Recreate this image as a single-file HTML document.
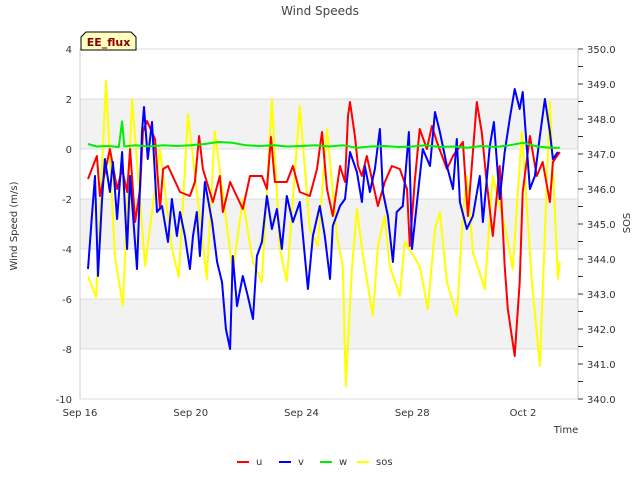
<!DOCTYPE html>
<html><head><meta charset="utf-8">
<style>
body{margin:0;background:#fff;}
svg{display:block;font-family:"DejaVu Sans","Liberation Sans",sans-serif;}
</style></head>
<body>
<svg id="chart" width="640" height="480" viewBox="0 0 640 480"></svg>
<script>
const uT=[0.29,0.61,0.72,1.08,1.34,1.52,1.70,1.81,1.99,2.17,2.27,2.42,2.71,2.89,3.00,3.18,3.61,3.97,4.15,4.30,4.44,4.80,5.05,5.16,5.42,5.88,6.14,6.57,6.75,6.90,7.04,7.47,7.69,7.94,8.30,8.56,8.74,8.92,9.13,9.39,9.57,9.68,9.75,9.93,10.04,10.18,10.36,10.76,11.01,11.26,11.55,11.81,11.91,12.09,12.27,12.53,12.71,12.89,13.25,13.47,13.83,14.01,14.33,14.51,14.69,14.91,15.16,15.34,15.45,15.70,15.88,15.99,16.25,16.50,16.71,16.97,17.08,17.33];
const uV=[-1.2,-0.28,-1.88,0,-1.6,-0.8,-1.72,0,-2.92,-1.6,0.68,1.12,0.4,-2.4,-0.8,-0.68,-1.72,-1.88,-1.32,0.52,-0.8,-2.12,-1.08,-2.52,-1.32,-2.4,-1.08,-1.08,-1.6,0.48,-1.32,-1.32,-0.68,-1.72,-1.88,-0.8,0.68,-1.6,-2.68,-0.68,-1.32,1.32,1.88,0.52,-0.68,-1.08,-0.28,-2.28,-1.32,-0.68,-0.8,-1.6,-3.88,-1.32,0.8,0,0.92,0.28,-0.8,-0.28,0.28,-2.68,1.88,0.68,-1.32,-3.48,-0.68,-4.68,-6.4,-8.28,-5.32,-1.72,0.52,-1.08,-0.52,-2.12,-0.52,-0.12];
const vT=[0.29,0.43,0.54,0.65,0.79,0.90,1.08,1.19,1.34,1.52,1.70,1.81,2.06,2.24,2.31,2.45,2.60,2.78,2.96,3.18,3.32,3.50,3.61,3.79,3.97,4.08,4.22,4.33,4.51,4.77,4.95,5.13,5.27,5.42,5.52,5.67,5.88,6.06,6.25,6.39,6.57,6.75,6.93,7.11,7.29,7.47,7.69,7.94,8.23,8.41,8.66,8.84,9.03,9.13,9.39,9.57,9.75,10.00,10.18,10.29,10.47,10.65,10.83,10.94,11.12,11.30,11.44,11.66,11.88,11.99,12.17,12.38,12.64,12.82,13.00,13.25,13.47,13.61,13.72,13.97,14.19,14.44,14.55,14.80,14.95,15.16,15.34,15.52,15.70,15.88,15.99,16.14,16.25,16.43,16.61,16.79,16.97,17.08,17.26];
const vV=[-4.8,-2.68,-1.08,-5.08,-2.12,-0.4,-1.72,-0.52,-2.8,-0.12,-4.0,-1.08,-4.8,0.68,1.68,-0.4,1.08,-2.52,-2.28,-3.72,-2.0,-3.48,-2.52,-3.48,-4.8,-3.48,-2.52,-4.28,-1.32,-2.92,-4.52,-5.32,-7.2,-8.0,-4.28,-6.28,-5.08,-5.88,-6.8,-4.28,-3.72,-1.88,-3.2,-2.4,-4.0,-1.88,-2.92,-2.12,-5.6,-3.48,-2.28,-3.48,-5.2,-3.08,-2.28,-2.0,-0.12,-0.92,-2.12,-0.68,-1.72,-0.8,0.8,-1.72,-2.68,-4.52,-2.52,-2.28,0.68,-4.0,-2.12,0,-0.68,1.48,0.68,-0.68,-1.6,0.4,-2.12,-3.2,-2.68,-1.08,-2.92,0.12,1.08,-2.0,-0.12,1.2,2.4,1.6,2.28,0,-1.6,-1.08,0.52,2.0,0.68,-0.4,-0.12];
const wT=[0.29,0.6,1.0,1.4,1.52,1.6,2.0,2.5,3.0,3.5,4.0,4.5,5.0,5.5,6.0,6.5,7.0,7.5,8.0,8.5,9.0,9.5,10.0,10.5,11.0,11.5,12.0,12.5,13.0,13.5,14.0,14.5,15.0,15.5,16.0,16.5,17.0,17.33];
const wV=[0.2,0.1,0.12,0.08,1.1,0.1,0.15,0.1,0.15,0.12,0.15,0.2,0.28,0.25,0.15,0.12,0.15,0.1,0.12,0.15,0.1,0.15,0.05,0.1,0.12,0.08,0.1,0.15,0.08,0.1,0.05,0.12,0.08,0.15,0.25,0.1,0.05,0.05];
const sT=[0.29,0.58,0.94,1.26,1.55,1.88,2.35,2.89,3.32,3.57,3.90,4.58,4.87,5.52,5.88,6.25,6.57,6.93,7.22,7.47,7.94,8.30,8.59,8.92,9.28,9.49,9.60,9.82,10.00,10.22,10.58,10.76,11.01,11.19,11.55,11.73,12.27,12.56,12.82,13.00,13.25,13.61,13.83,13.97,14.19,14.62,14.91,15.42,15.63,15.96,16.32,16.61,16.97,17.26,17.33];
const sV=[343.51,342.91,349.09,344.09,342.66,348.57,343.80,347.14,344.29,343.49,348.14,343.43,347.66,343.63,345.71,343.91,343.34,348.57,344.29,343.37,348.37,344.86,344.37,347.71,344.66,343.80,340.37,343.71,345.43,344.09,342.37,344.37,345.23,343.80,342.94,344.49,343.80,342.57,344.86,345.34,343.34,342.37,345.23,346.37,344.20,343.14,346.37,344.66,343.71,347.63,343.34,340.94,348.49,343.43,343.91];
const xTickDays=[0,4,8,12,16];
const xTickLabels=["Sep 16","Sep 20","Sep 24","Sep 28","Oct 2"];
const yTicks=[-10,-8,-6,-4,-2,0,2,4];
const y2Ticks=[340,341,342,343,344,345,346,347,348,349,350];

const L=80,R=578,T=49,B=399;
const xS=d=>L+d*(443/16);
const yS=v=>T+(4-v)*(B-T)/14;
const y2S=s=>T+(350-s)*(B-T)/10;
const svg=document.getElementById('chart');
const NS='http://www.w3.org/2000/svg';
function mk(tag,attrs,parent){const e=document.createElementNS(NS,tag);for(const k in attrs)e.setAttribute(k,attrs[k]);(parent||svg).appendChild(e);return e;}
function txt(s,attrs,parent){const e=mk('text',attrs,parent);e.textContent=s;return e;}

// bands
const bandG=mk('g',{});


[[0,2],[-4,-2],[-8,-6]].forEach(b=>{mk('rect',{x:L,y:yS(b[1]),width:R-L,height:yS(b[0])-yS(b[1]),fill:'#f2f2f2'},bandG);});
// gridlines
const gridG=mk('g',{});


yTicks.forEach(v=>mk('line',{x1:L,x2:R,y1:yS(v),y2:yS(v),stroke:'#dcdcdc','stroke-width':1},gridG));
// axes frame
mk('line',{x1:L,x2:L,y1:T,y2:B,stroke:'#ccc'});
mk('line',{x1:R,x2:R,y1:T,y2:B,stroke:'#ccc'});

// left ticks
const ylG=mk('g',{});


yTicks.forEach(v=>txt(String(v),{x:72,y:yS(v)+4,'text-anchor':'end','font-size':10,fill:'#333'},ylG));
// right ticks
const yrG=mk('g',{});


y2Ticks.forEach(s=>{
  mk('line',{x1:R,x2:R+5,y1:y2S(s),y2:y2S(s),stroke:'#333'},yrG);
  if(s<350)mk('line',{x1:R,x2:R+5,y1:y2S(s+0.5),y2:y2S(s+0.5),stroke:'#333'},yrG);
  txt(s.toFixed(1),{x:587,y:y2S(s)+4,'font-size':10,fill:'#333'},yrG);
});
// x ticks
const xG=mk('g',{});


xTickDays.forEach((d,i)=>txt(xTickLabels[i],{x:xS(d),y:416,'text-anchor':'middle','font-size':10,fill:'#333'},xG));

// series
const clip=mk('clipPath',{id:'pc'});mk('rect',{x:L,y:T,width:R-L,height:B-T},clip);
function line(T_,V_,scale,color,name){
  const p=mk('polyline',{points:T_.map((t,i)=>xS(t).toFixed(1)+','+scale(V_[i]).toFixed(1)).join(' '),fill:'none',stroke:color,'stroke-width':2,'stroke-linejoin':'round','clip-path':'url(#pc)'});
  
  
}
line(sT,sV,y2S,'#ffff00','series-sos');
line(uT,uV,yS,'#ff0000','series-u');
line(vT,vV,yS,'#0000ff','series-v');
line(wT,wV,yS,'#00ee00','series-w');

// titles
const t1=txt('Wind Speeds',{x:320,y:15,'text-anchor':'middle','font-size':12,fill:'#444'});

const t2=txt('Wind Speed (m/s)',{x:0,y:0,transform:'translate(17,226) rotate(-90)','text-anchor':'middle','font-size':10,fill:'#333'});

const t3=txt('SOS',{x:0,y:0,transform:'translate(630,223) rotate(-90)','text-anchor':'middle','font-size':10,fill:'#333'});

const t4=txt('Time',{x:566,y:433,'text-anchor':'middle','font-size':10,fill:'#333'});


// badge
const bg=mk('g',{});


mk('path',{d:'M81,50 L81,37 L86,32 L131,32 L136,37 L136,50 Z',fill:'#ffffc0',stroke:'#000','stroke-width':1},bg);
txt('EE_flux',{x:108.5,y:46,'text-anchor':'middle','font-size':11,'font-weight':'bold',fill:'#8b0000'},bg);

// legend
const lg=mk('g',{});


[['u','#ff0000',237],['v','#0000ff',279],['w','#00ee00',320],['sos','#ffff00',357]].forEach(e=>{
  const g=mk('g',{},lg);
  
  
  mk('line',{x1:e[2],x2:e[2]+12,y1:462,y2:462,stroke:e[1],'stroke-width':2},g);
  txt(e[0],{x:e[2]+19,y:465,'font-size':10,fill:'#333'},g);
});
</script>
</body></html>
